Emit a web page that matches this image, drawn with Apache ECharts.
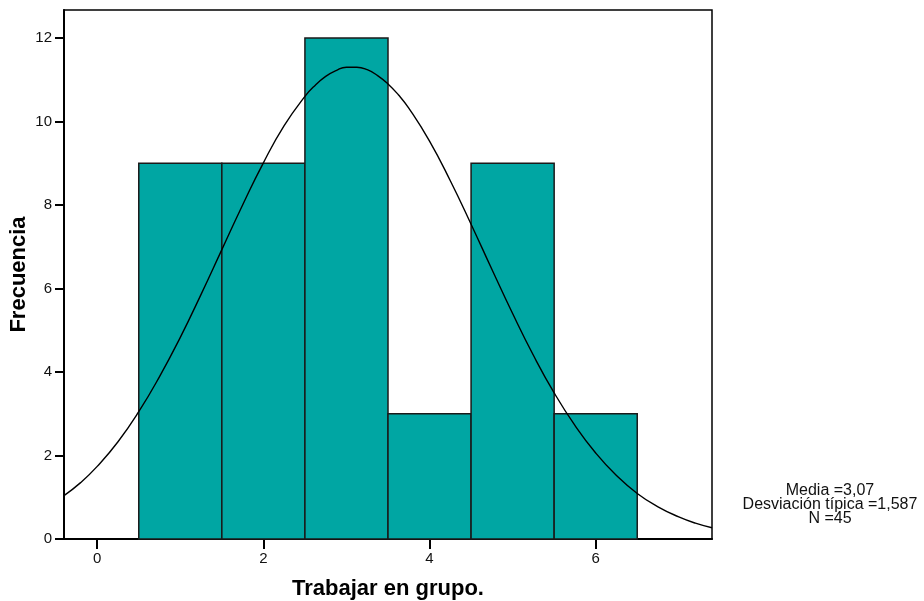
<!DOCTYPE html>
<html>
<head>
<meta charset="utf-8">
<script src="https://cdn.jsdelivr.net/npm/echarts@6/dist/echarts.min.js"></script>
<style>
html,body{margin:0;padding:0;background:#fff;}
#chart{width:924px;height:601px;}
</style>
</head>
<body>
<div id="chart"></div>
<script>
// Histogram bins
const binStart = [0.5, 1.5, 2.5, 3.5, 4.5, 5.5];
const binEnd   = [1.5, 2.5, 3.5, 4.5, 5.5, 6.5];
const counts   = [9, 9, 12, 3, 9, 3];

// Normal curve points
const curveX = [-0.4, -0.2, 0, 0.25, 0.5, 0.75, 1, 1.25, 1.5, 1.75, 2, 2.25, 2.5, 2.625, 2.75, 2.875, 3, 3.125, 3.25, 3.375, 3.5, 3.625, 3.75, 4, 4.25, 4.5, 4.75, 5, 5.25, 5.5, 5.75, 6, 6.25, 6.5, 6.75, 7, 7.2, 7.4];
const curveY = [1.04, 1.35, 1.74, 2.33, 3.05, 3.89, 4.83, 5.86, 6.93, 8.00, 9.01, 9.90, 10.60, 10.87, 11.08, 11.22, 11.30, 11.30, 11.24, 11.10, 10.90, 10.64, 10.32, 9.53, 8.58, 7.54, 6.46, 5.40, 4.40, 3.50, 2.72, 2.06, 1.52, 1.09, 0.77, 0.53, 0.38, 0.27];

// Tick labels
const xTicks = [0, 2, 4, 6];
const yTicks = [0, 2, 4, 6, 8, 10, 12];

// Stats
const statMedia = '3,07';
const statDesv = '1,587';
const statN = '45';

const FONT = '"Liberation Sans", Arial, sans-serif';

const chart = echarts.init(document.getElementById('chart'), null, {renderer: 'canvas'});

const barData = binStart.map((s, i) => [s, binEnd[i], counts[i]]);
const lineData = curveX.map((x, i) => [x, curveY[i]]);

chart.setOption({
  animation: false,
  backgroundColor: '#ffffff',
  grid: {
    left: 64, right: 212, top: 10, bottom: 62,
    containLabel: false,
    outerBoundsMode: 'none',
    show: true, borderColor: '#000', borderWidth: 1.5, backgroundColor: 'transparent'
  },
  xAxis: {
    type: 'value',
    min: -0.4, max: 7.4,
    name: 'Trabajar en grupo.',
    nameLocation: 'middle',
    nameGap: 39,
    nameMoveOverlap: false,
    nameTextStyle: {fontFamily: FONT, fontSize: 22, fontWeight: 'bold', color: '#000'},
    axisLine: {show: true, onZero: false, lineStyle: {color: '#000', width: 2}},
    axisTick: {show: true, customValues: xTicks, length: 10, lineStyle: {color: '#000', width: 2}},
    axisLabel: {show: true, customValues: xTicks, margin: 12, fontFamily: FONT, fontSize: 15, color: '#111'},
    splitLine: {show: false}
  },
  yAxis: {
    type: 'value',
    min: 0, max: 12.67,
    name: 'Frecuencia',
    nameLocation: 'middle',
    nameGap: 34,
    nameMoveOverlap: false,
    nameTextStyle: {fontFamily: FONT, fontSize: 22, fontWeight: 'bold', color: '#000'},
    axisLine: {show: true, onZero: false, lineStyle: {color: '#000', width: 2}},
    axisTick: {show: true, customValues: yTicks, length: 9, lineStyle: {color: '#000', width: 2}},
    axisLabel: {show: true, customValues: yTicks, margin: 12, fontFamily: FONT, fontSize: 15, color: '#111'},
    splitLine: {show: false}
  },
  series: [
    {
      type: 'custom',
      data: barData,
      encode: {x: [0, 1], y: 2},
      renderItem: function (params, api) {
        const x0 = api.value(0), x1 = api.value(1), c = api.value(2);
        const p0 = api.coord([x0, c]);
        const p1 = api.coord([x1, 0]);
        return {
          type: 'rect',
          shape: {x: p0[0], y: p0[1], width: p1[0] - p0[0], height: p1[1] - p0[1]},
          style: {fill: '#00A6A3', stroke: '#1a1a1a', lineWidth: 1.5}
        };
      },
      z: 2
    },
    {
      type: 'line',
      data: lineData,
      smooth: true,
      showSymbol: false,
      lineStyle: {color: '#000', width: 1.4},
      z: 3
    }
  ],
  graphic: [
    {
      type: 'text',
      x: 830, y: 484,
      style: {
        text: 'Media =' + statMedia + '\nDesviación típica =' + statDesv + '\nN =' + statN,
        textAlign: 'center',
        textVerticalAlign: 'top',
        font: '16px ' + FONT,
        lineHeight: 14,
        fill: '#111'
      }
    }
  ]
});
</script>
</body>
</html>
